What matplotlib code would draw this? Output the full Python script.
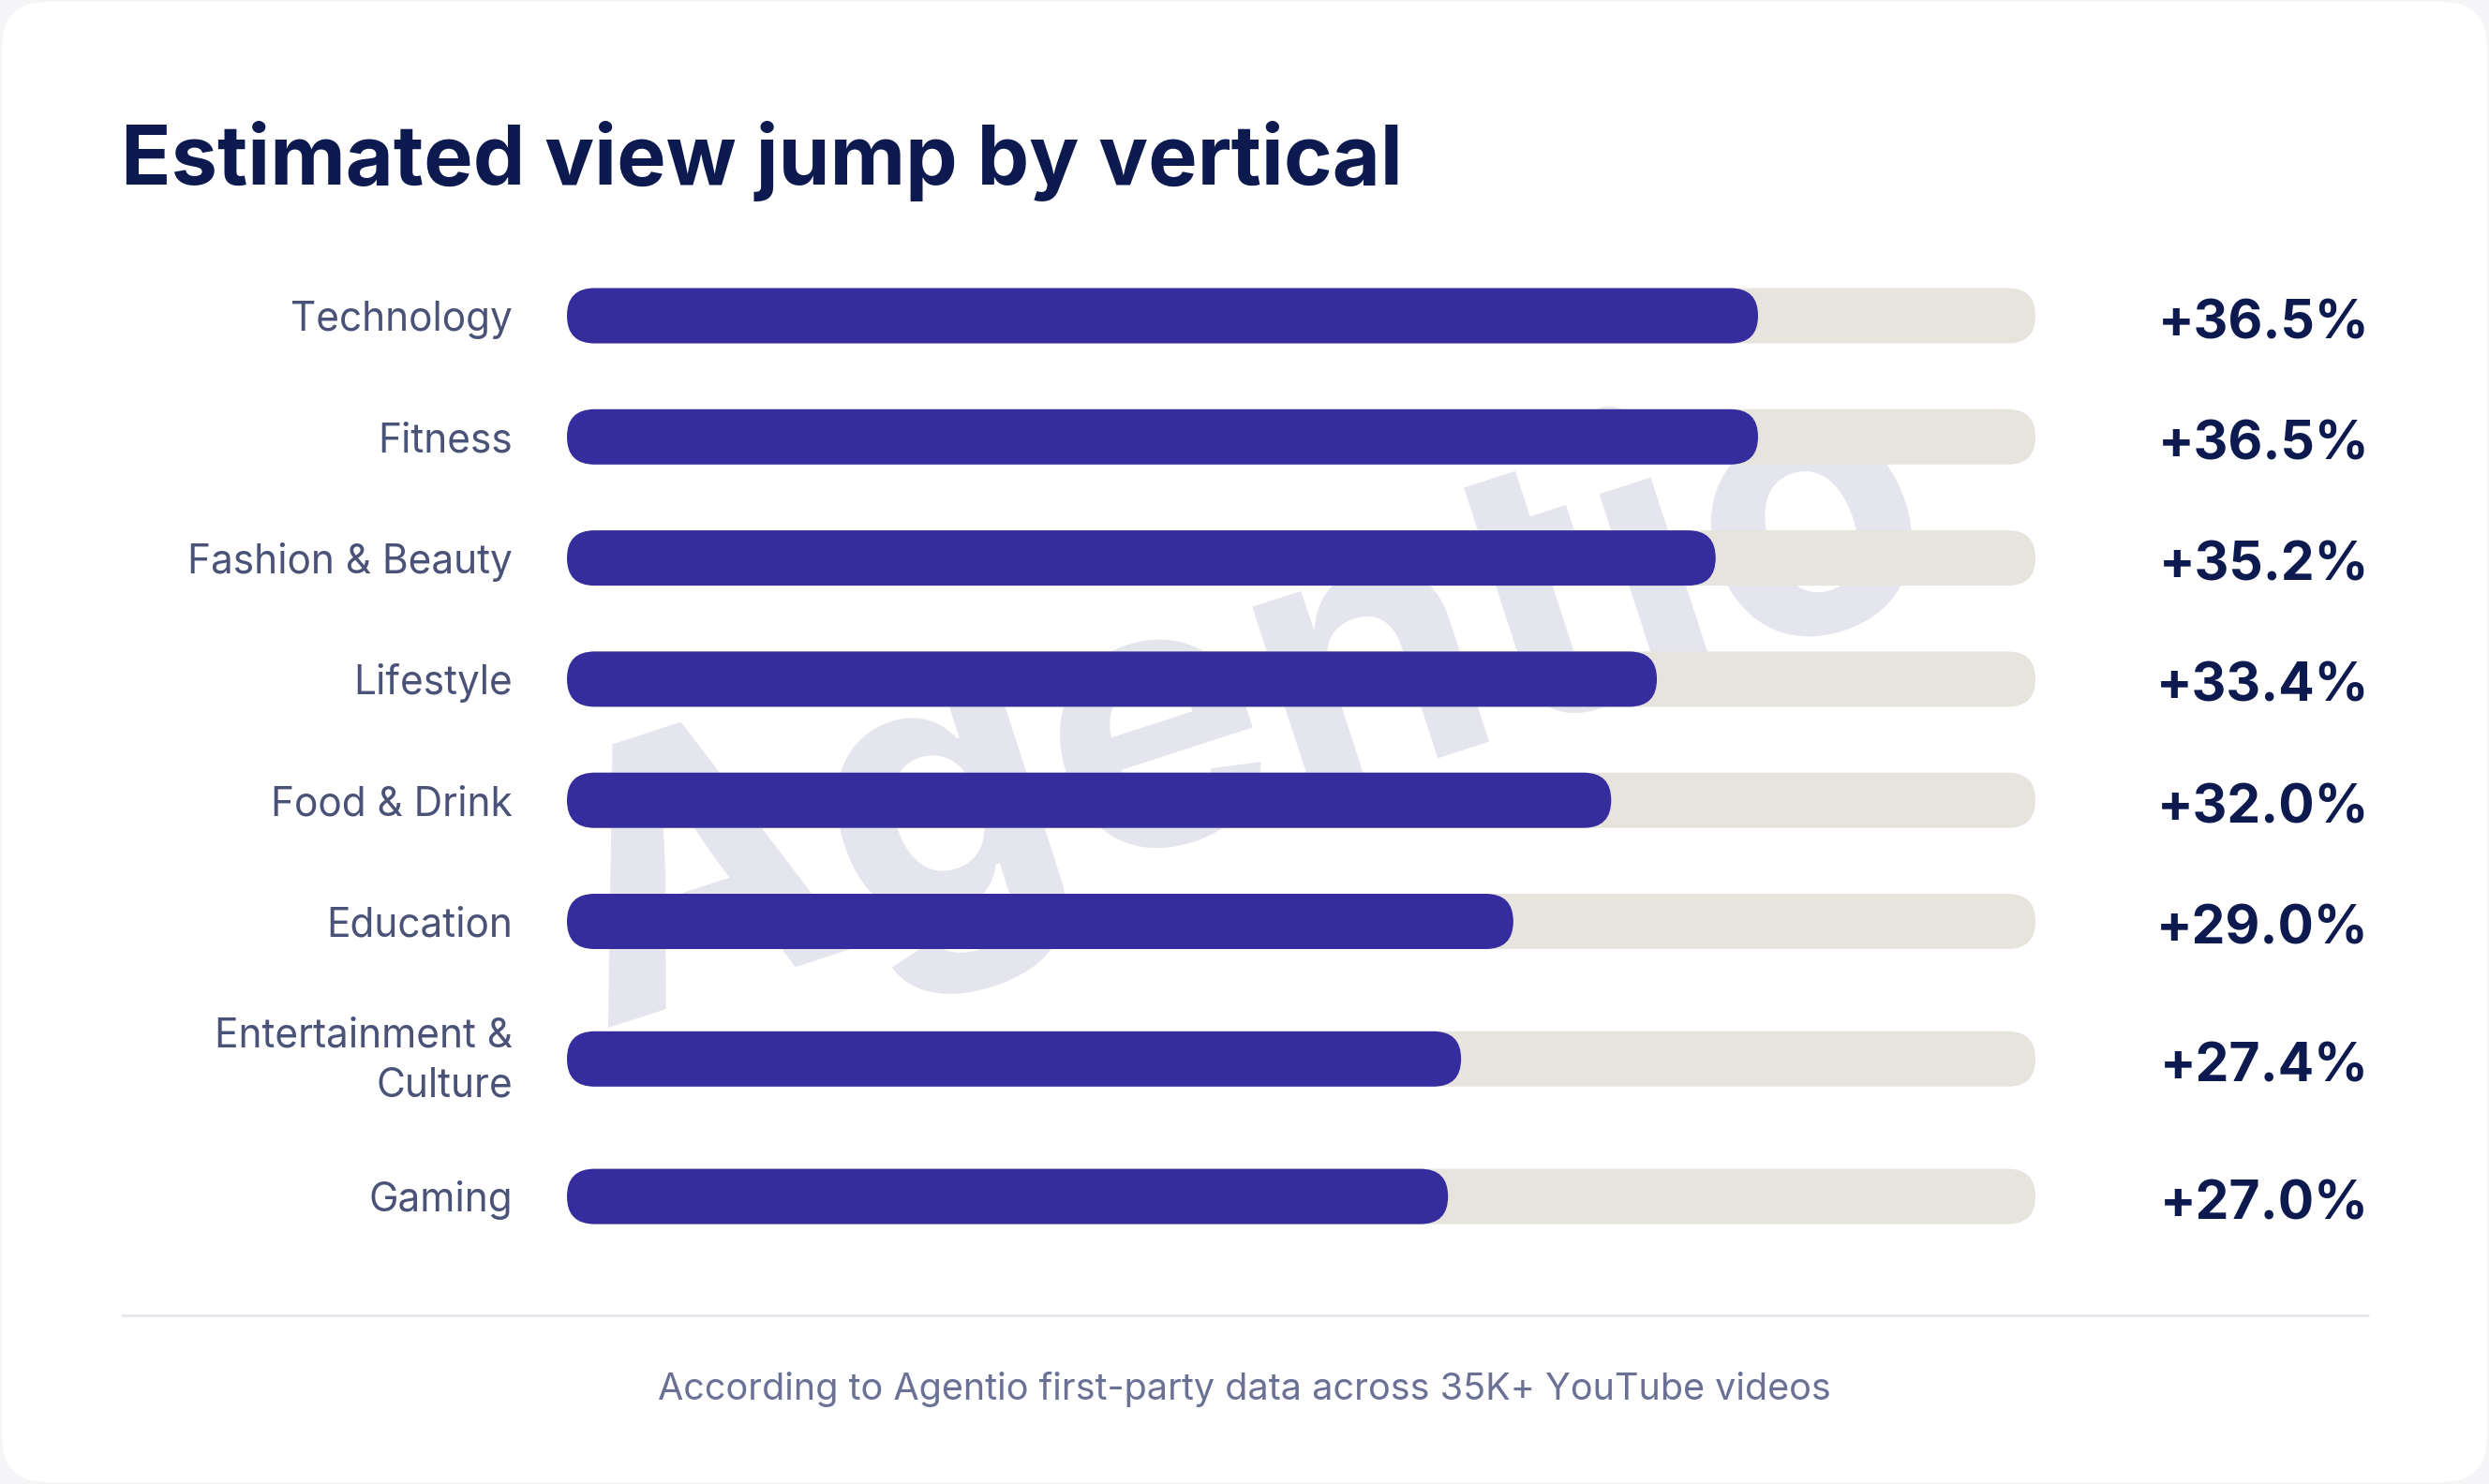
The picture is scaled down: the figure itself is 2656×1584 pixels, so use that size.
import numpy as np
import matplotlib.pyplot as plt
from matplotlib.patches import FancyBboxPatch, PathPatch
from matplotlib.textpath import TextPath
from matplotlib.font_manager import FontProperties
from matplotlib.transforms import Affine2D

# data
verticals = ['Technology', 'Fitness', 'Fashion & Beauty', 'Lifestyle', 'Food & Drink',
             'Education', 'Entertainment &\nCulture', 'Gaming']
view_jump = [36.5, 36.5, 35.2, 33.4, 32.0, 29.0, 27.4, 27.0]
scale_max = 45.0

title = 'Estimated view jump by vertical'
footnote = 'According to Agentio first-party data across 35K+ YouTube videos'
watermark = 'Agentio'

navy = '#0c1a4f'
label_col = '#4a5278'
fill_col = '#352d9e'
track_col = '#e7e4de'

W, H = 2656, 1584
plt.rcParams['font.family'] = ['Inter', 'DejaVu Sans']
fig = plt.figure(figsize=(W / 100, H / 100), dpi=100, facecolor='#f5f5f8')

# background card + watermark, pixel coords (y up)
bg = fig.add_axes([0, 0, 1, 1])
bg.set_xlim(0, W)
bg.set_ylim(0, H)
bg.axis('off')
bg.add_patch(FancyBboxPatch((2, 2), W - 4, H - 4, boxstyle='round,pad=0,rounding_size=48',
                            fc='white', ec='none'))

tp = TextPath((0, 0), watermark, size=100, prop=FontProperties(family='Inter', weight='bold'))
k = 1490 / tp.get_extents().width
tr = Affine2D().scale(k).rotate_deg(18).translate(640, H - 1100)
bg.add_patch(PathPatch(tr.transform_path(tp), fc='#e5e6ed', ec='none'))

bg.plot([129, 2528], [H - 1404, H - 1404], color='#e6e6ec', lw=2, solid_capstyle='butt')

# bars axes: x in percent, y in pixels from top
ax = fig.add_axes([0, 0, 1, 1])
ax.patch.set_alpha(0)
ax.axis('off')
x0_px, x1_px = 605, 2172
ppu = (x1_px - x0_px) / scale_max
ax.set_xlim(-x0_px / ppu, (W - x0_px) / ppu)
ax.set_ylim(H, 0)

pitch, extra = 129.3, 17.5
centers = []
y = 337
for i, lab in enumerate(verticals):
    if i > 0:
        y += pitch + extra * (lab.count('\n') + verticals[i - 1].count('\n'))
    centers.append(y)

bar_h = 59
r = (bar_h / 2) / ppu
for lab, v, yc in zip(verticals, view_jump, centers):
    for width, col in [(scale_max, track_col), (v, fill_col)]:
        ax.add_patch(FancyBboxPatch((0, yc - bar_h / 2), width, bar_h,
                                    boxstyle=f'round,pad=0,rounding_size={r}',
                                    mutation_aspect=ppu, fc=col, ec='none'))
    lines = lab.split('\n')
    n = len(lines)
    off = 16 - 2.5 * (n - 1)
    for j, line in enumerate(lines):
        ax.text((547 - x0_px) / ppu, yc + off + (j - (n - 1) / 2) * 53, line,
                ha='right', va='baseline', fontsize=30.5, color=label_col)
    ax.text((2528 - x0_px) / ppu, yc + 24, f'+{v:.1f}%', ha='right', va='baseline',
            fontsize=41, fontweight='bold', color=navy)

fig.text(129 / W, 1 - 197 / H, title, ha='left', va='baseline', fontsize=63.5,
         fontweight='bold', color=navy)
fig.text(0.5, 1 - 1494 / H, footnote, ha='center', va='baseline', fontsize=28.5,
         color='#6b7195')

fig.savefig('out.png', dpi=100, facecolor=fig.get_facecolor())
